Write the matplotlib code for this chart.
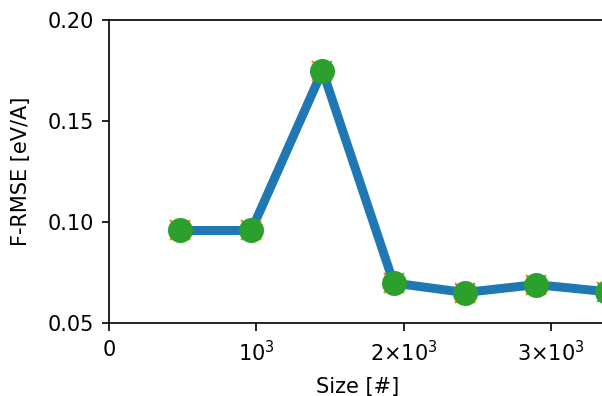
import matplotlib
matplotlib.use("Agg")
import matplotlib.pyplot as plt
from matplotlib.ticker import FuncFormatter

sizes = [483, 966, 1449, 1932, 2415, 2898, 3381]
f_rmse = [0.0958, 0.0958, 0.1750, 0.0698, 0.0651, 0.0690, 0.0655]
y_ticks = [0.05, 0.10, 0.15, 0.20]
x_ticks = [0, 1000, 2000, 3000]


def size_fmt(v, pos):
    if v == 0:
        return "0"
    m = int(round(v / 1000))
    if m == 1:
        return r"$10^{3}$"
    return r"$%d{\times}10^{3}$" % m


fig = plt.figure(figsize=(4.02, 2.64), dpi=150)
ax = fig.add_axes([0.1808, 0.1843, 0.826, 0.7652])

ax.plot(sizes, f_rmse, color="C0", lw=4.3)
ax.plot(sizes, f_rmse, "x", color="C1", ms=10, clip_on=False)
ax.plot(sizes, f_rmse, "o", color="C2", ms=11, clip_on=False)

ax.set_xlim(0, sizes[-1])
ax.set_ylim(0.05, 0.20)
ax.set_yticks(y_ticks)
ax.set_xticks(x_ticks)
ax.tick_params(axis="x", length=3.8, pad=4.5)
ax.xaxis.set_major_formatter(FuncFormatter(size_fmt))
ax.yaxis.set_major_formatter(FuncFormatter(lambda v, p: "%.2f" % v))
ax.set_xlabel("Size [#]", labelpad=5.5)
ax.set_ylabel("F-RMSE [eV/A]", labelpad=8)

fig.savefig("out.png", dpi=150)
